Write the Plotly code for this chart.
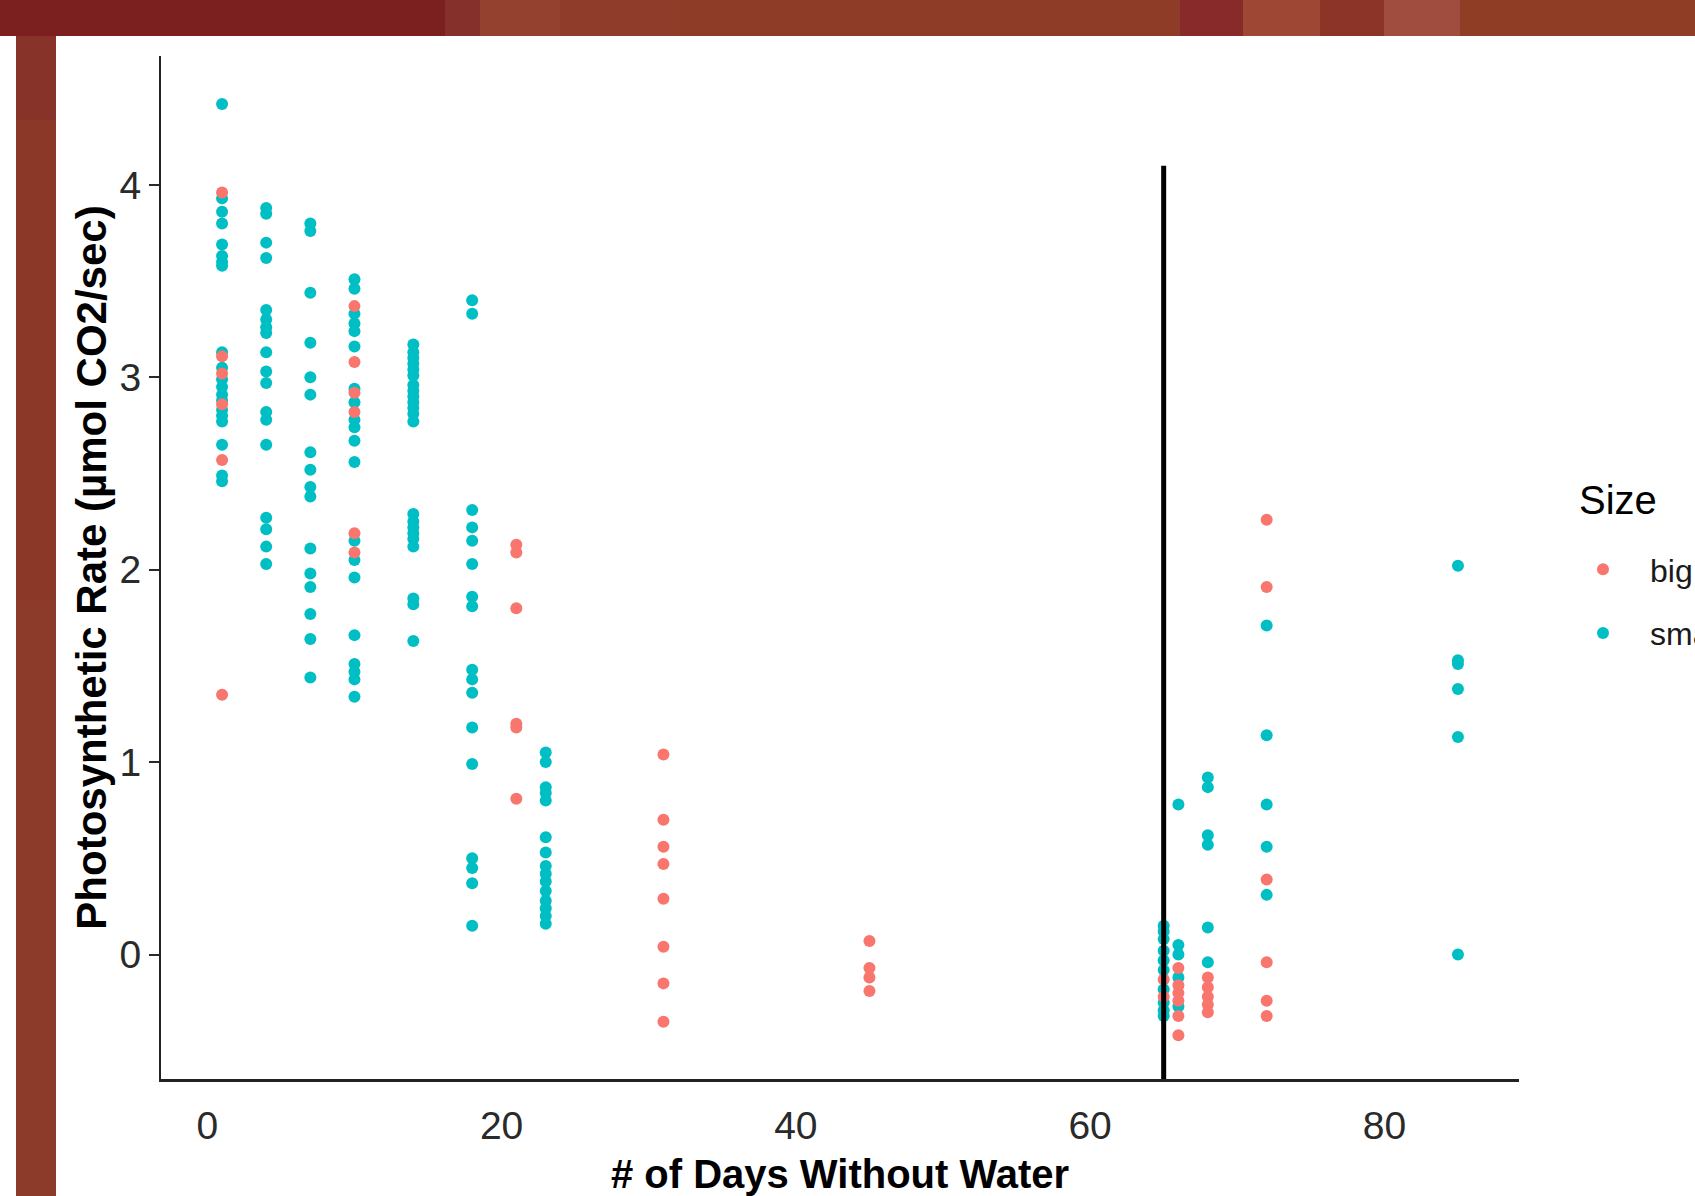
import plotly.graph_objects as go

# ---------------- data ----------------
big_days = [1]*6 + [10]*6 + [21]*6 + [31]*8 + [45]*4 + [65]*2 + [66]*6 + [68]*5 + [72]*6
big_rates = [3.96, 3.11, 3.02, 2.86, 2.57, 1.35,
             3.37, 3.08, 2.92, 2.82, 2.19, 2.09,
             2.13, 2.09, 1.80, 1.20, 1.18, 0.81,
             1.04, 0.70, 0.56, 0.47, 0.29, 0.04, -0.15, -0.35,
             0.07, -0.07, -0.12, -0.19,
             -0.13, -0.22,
             -0.07, -0.16, -0.20, -0.24, -0.32, -0.42,
             -0.12, -0.17, -0.22, -0.26, -0.30,
             2.26, 1.91, 0.39, -0.04, -0.24, -0.32]

small_days = ([1]*20 + [4]*18 + [7]*16 + [10]*20 + [14]*22 + [18]*17 + [23]*15
              + [65]*10 + [66]*5 + [68]*6 + [72]*5 + [85]*6)
small_rates = [4.42, 3.93, 3.86, 3.80, 3.69, 3.63, 3.60, 3.58, 3.13, 3.05, 2.99, 2.95, 2.91, 2.88, 2.83, 2.80, 2.77, 2.65, 2.49, 2.46,
               3.88, 3.85, 3.70, 3.62, 3.35, 3.30, 3.26, 3.23, 3.13, 3.03, 2.97, 2.82, 2.78, 2.65, 2.27, 2.21, 2.12, 2.03,
               3.80, 3.76, 3.44, 3.18, 3.00, 2.91, 2.61, 2.52, 2.43, 2.38, 2.11, 1.98, 1.91, 1.77, 1.64, 1.44,
               3.51, 3.46, 3.33, 3.28, 3.24, 3.16, 2.94, 2.87, 2.78, 2.74, 2.67, 2.56, 2.15, 2.05, 1.96, 1.66, 1.51, 1.47, 1.43, 1.34,
               3.17, 3.13, 3.10, 3.07, 3.04, 3.01, 2.96, 2.93, 2.90, 2.87, 2.84, 2.81, 2.77, 2.29, 2.25, 2.22, 2.19, 2.16, 2.12, 1.85, 1.82, 1.63,
               3.40, 3.33, 2.31, 2.22, 2.15, 2.03, 1.86, 1.81, 1.48, 1.43, 1.36, 1.18, 0.99, 0.50, 0.45, 0.37, 0.15,
               1.05, 1.00, 0.87, 0.84, 0.80, 0.61, 0.53, 0.46, 0.42, 0.38, 0.33, 0.28, 0.24, 0.20, 0.16,
               0.15, 0.12, 0.08, 0.02, -0.03, -0.08, -0.18, -0.25, -0.29, -0.32,
               0.78, 0.05, 0.00, -0.12, -0.27,
               0.92, 0.87, 0.62, 0.57, 0.14, -0.04,
               1.71, 1.14, 0.78, 0.56, 0.31,
               2.02, 1.53, 1.51, 1.38, 1.13, 0.00]

group_names = ["big", "small"]
group_colors = ["#F8766D", "#00BFC4"]
x_ticks = [0, 20, 40, 60, 80]
y_ticks = [0, 1, 2, 3, 4]
marker_day = 65
marker_top = 4.1

x_title = "# of Days Without Water"
y_title = "Photosynthetic Rate (µmol CO2/sec)"
legend_title = "Size"

# ---------------- layout geometry (pixels) ----------------
W, H = 1695, 1196
PL, PR, PT, PB = 161, 1519, 56, 1079  # plot area edges


def px(x):
    return (x - PL) / (PR - PL)


def py(y):
    return (PB - y) / (PB - PT)


FONT = "Liberation Sans, Arial, sans-serif"

fig = go.Figure()
fig.add_trace(go.Scatter(x=small_days, y=small_rates, mode="markers", name=group_names[1],
                         legendrank=2, legendgroup="s",
                         marker=dict(color=group_colors[1], size=12, line=dict(width=0))))
fig.add_trace(go.Scatter(x=big_days, y=big_rates, mode="markers", name=group_names[0],
                         legendrank=1, legendgroup="b",
                         marker=dict(color=group_colors[0], size=12, line=dict(width=0))))

shapes = []
# slide background decoration: top band and left strip
band = [(0, 445, "#7B1F1F"), (445, 480, "#85302A"), (480, 560, "#94412F"), (560, 680, "#8F3C2B"),
        (680, 1180, "#8E3B27"), (1180, 1243, "#88292A"), (1243, 1320, "#9D4734"),
        (1320, 1384, "#8C3428"), (1384, 1460, "#A04D40"), (1460, 1695, "#8F3D25")]
for x0, x1, c in band:
    shapes.append(dict(type="rect", xref="paper", yref="paper", x0=px(x0), x1=px(x1),
                       y0=py(36), y1=py(0), fillcolor=c, line=dict(width=0), layer="below"))
strip = [(36, 120, "#87332A"), (120, 600, "#8B3828"), (600, 1196, "#8C3A29")]
for y0, y1, c in strip:
    shapes.append(dict(type="rect", xref="paper", yref="paper", x0=px(16), x1=px(56),
                       y0=py(y1), y1=py(y0), fillcolor=c, line=dict(width=0), layer="below"))
# vertical reference line
shapes.append(dict(type="line", xref="x", yref="y", x0=marker_day, x1=marker_day,
                   y0=-0.647, y1=marker_top, line=dict(color="black", width=5), layer="above"))

annotations = [dict(text=legend_title, xref="paper", yref="paper", x=px(1577), y=py(500),
                    xanchor="left", yanchor="middle", showarrow=False,
                    font=dict(family=FONT, size=40, color="black"))]

fig.update_layout(
    width=W, height=H,
    margin=dict(l=PL, r=W - PR, t=PT, b=H - PB, autoexpand=False),
    paper_bgcolor="white", plot_bgcolor="white",
    font=dict(family=FONT, color="black"),
    shapes=shapes,
    annotations=annotations,
    showlegend=True,
    legend=dict(
        font=dict(family=FONT, size=32, color="#1a1a1a"),
        x=px(1556), xanchor="left", y=py(542), yanchor="top",
        itemwidth=84, tracegroupgap=19, bgcolor="rgba(0,0,0,0)",
    ),
    xaxis=dict(range=[-3.15, 89.15], tickvals=x_ticks, showgrid=False, zeroline=False,
               showline=True, linecolor="#222222", linewidth=2.5, ticks="",
               ticklabelstandoff=10, tickfont=dict(size=39, color="#2a2a2a"),
               title=dict(text="<b>" + x_title + "</b>", font=dict(size=40, color="black"), standoff=30)),
    yaxis=dict(range=[-0.647, 4.670], tickvals=y_ticks, showgrid=False, zeroline=False,
               showline=True, linecolor="#222222", linewidth=2, ticks="outside", ticklen=10,
               tickwidth=2, tickcolor="#2a2a2a", tickfont=dict(size=39, color="#2a2a2a"),
               title=dict(text="<b>" + y_title + "</b>", font=dict(size=42, color="black"), standoff=0)),
)

fig.write_html("out.html", config={"displayModeBar": False},
               post_script="document.body.style.margin='0px';document.body.style.overflow='hidden';")
